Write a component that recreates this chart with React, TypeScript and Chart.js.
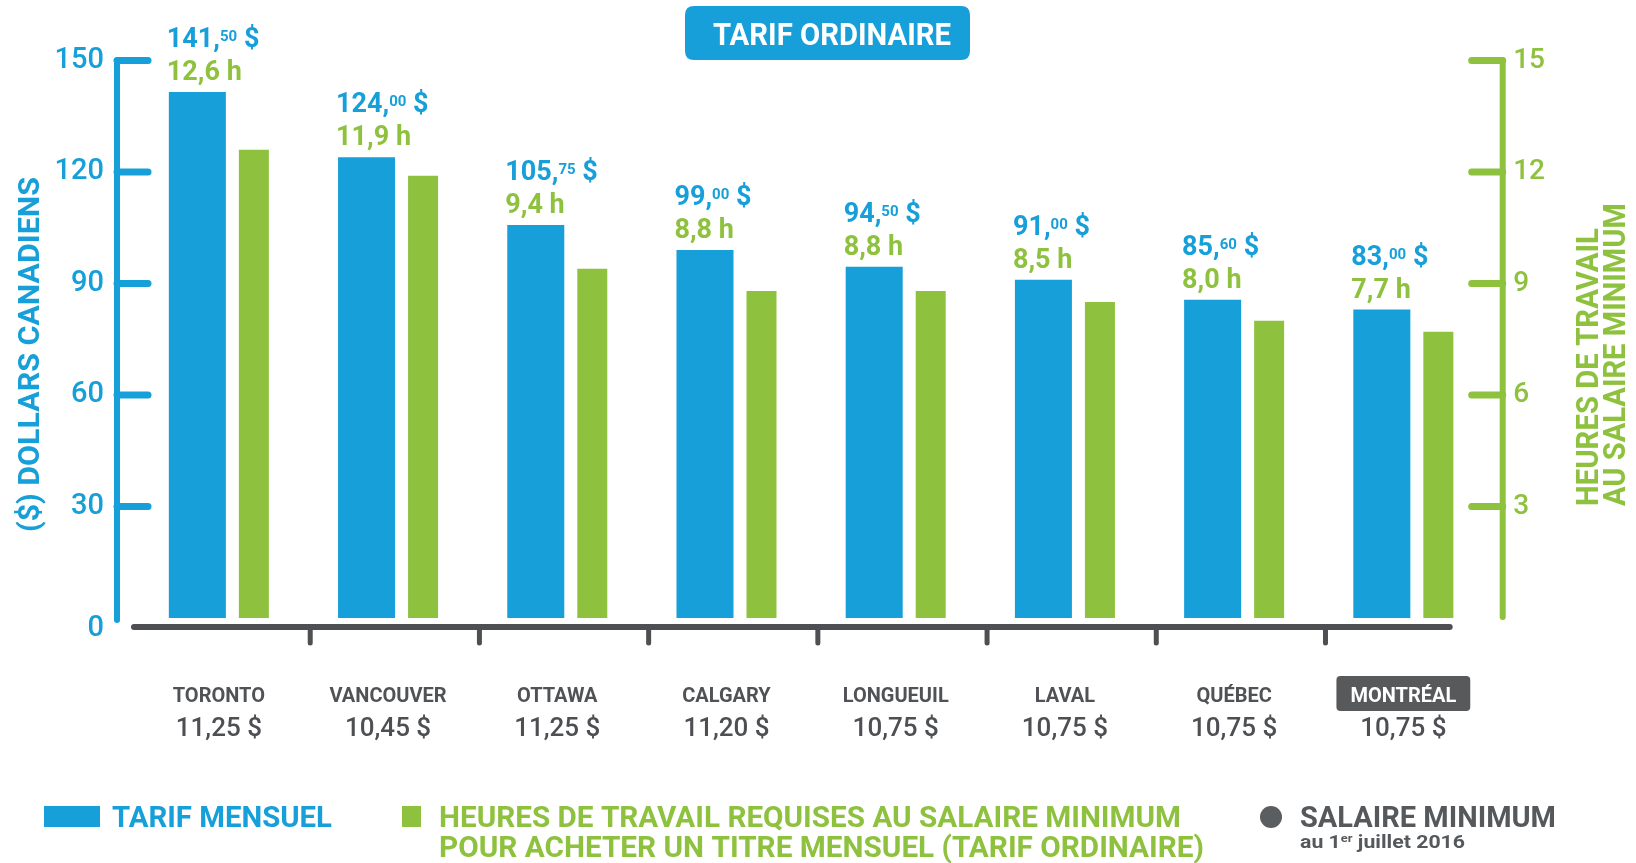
import React, { useEffect, useRef } from 'react';
import { Chart, registerables } from 'chart.js';

Chart.register(...registerables);

// ---------- data ----------
const cities = ['TORONTO', 'VANCOUVER', 'OTTAWA', 'CALGARY', 'LONGUEUIL', 'LAVAL', 'QUÉBEC', 'MONTRÉAL'];
const minimumWages = ['11,25 $', '10,45 $', '11,25 $', '11,20 $', '10,75 $', '10,75 $', '10,75 $', '10,75 $'];
const monthlyFares = [141.5, 124, 105.75, 99, 94.5, 91, 85.6, 83];
const workHours = [12.6, 11.9, 9.4, 8.8, 8.8, 8.5, 8.0, 7.7];
const fareTicks = [0, 30, 60, 90, 120, 150];
const hourTicks = [0, 3, 6, 9, 12, 15];
const highlightedCity = 'MONTRÉAL';

const chartTitle = 'TARIF ORDINAIRE';
const fareAxisTitle = '($) DOLLARS CANADIENS';
const hoursAxisTitle = ['HEURES DE TRAVAIL', 'AU SALAIRE MINIMUM'];
const legendFare = 'TARIF MENSUEL';
const legendHours = ['HEURES DE TRAVAIL REQUISES AU SALAIRE MINIMUM', 'POUR ACHETER UN TITRE MENSUEL (TARIF ORDINAIRE)'];
const legendWage = 'SALAIRE MINIMUM';
const legendWageNote = ['au 1', 'er', ' juillet 2016'];

// ---------- style ----------
const BLUE = '#169fd9';
const GREEN = '#8ec13e';
const GRAY = '#4d4f53';
const DARK = '#58595b';
const FAMILY = 'Roboto, "Noto Sans", "DejaVu Sans", sans-serif';
const f = (size: number, weight: string = 'bold') => `${weight} ${size}px ${FAMILY}`;

function drawText(
  ctx: CanvasRenderingContext2D,
  text: string,
  x: number,
  y: number,
  font: string,
  color: string,
  align: 'left' | 'center' | 'right' = 'left',
  targetWidth?: number,
  sx: number = 1
): number {
  ctx.save();
  ctx.font = font;
  const m = ctx.measureText(text).width;
  const scale = targetWidth ? targetWidth / m : sx;
  const w = m * scale;
  const left = align === 'center' ? x - w / 2 : align === 'right' ? x - w : x;
  ctx.translate(left, y);
  ctx.scale(scale, 1);
  ctx.fillStyle = color;
  ctx.textAlign = 'left';
  ctx.textBaseline = 'alphabetic';
  ctx.fillText(text, 0, 0);
  ctx.restore();
  return w;
}

function measure(ctx: CanvasRenderingContext2D, text: string, font: string): number {
  ctx.save();
  ctx.font = font;
  const w = ctx.measureText(text).width;
  ctx.restore();
  return w;
}

function drawRotated(
  ctx: CanvasRenderingContext2D,
  text: string,
  bx: number,
  by: number,
  font: string,
  color: string,
  targetLength?: number
) {
  ctx.save();
  ctx.translate(bx, by);
  ctx.rotate(-Math.PI / 2);
  drawText(ctx, text, 0, 0, font, color, 'left', targetLength);
  ctx.restore();
}

function seg(ctx: CanvasRenderingContext2D, x1: number, y1: number, x2: number, y2: number) {
  ctx.beginPath();
  ctx.moveTo(x1, y1);
  ctx.lineTo(x2, y2);
  ctx.stroke();
}

function roundRect(ctx: CanvasRenderingContext2D, x: number, y: number, w: number, h: number, r: number, color: string) {
  ctx.save();
  ctx.fillStyle = color;
  ctx.beginPath();
  ctx.moveTo(x + r, y);
  ctx.lineTo(x + w - r, y);
  ctx.quadraticCurveTo(x + w, y, x + w, y + r);
  ctx.lineTo(x + w, y + h - r);
  ctx.quadraticCurveTo(x + w, y + h, x + w - r, y + h);
  ctx.lineTo(x + r, y + h);
  ctx.quadraticCurveTo(x, y + h, x, y + h - r);
  ctx.lineTo(x, y + r);
  ctx.quadraticCurveTo(x, y, x + r, y);
  ctx.closePath();
  ctx.fill();
  ctx.restore();
}

// ---------- plugins ----------
const axesPlugin = {
  id: 'customAxes',
  afterDatasetsDraw(chart: any) {
    const { ctx, chartArea: a, scales } = chart;
    const xs = scales.x;
    const yF = scales.yFare;
    const yH = scales.yHours;
    ctx.save();
    ctx.lineCap = 'round';

    // left (fare) axis
    const lx = a.left - 24;
    ctx.strokeStyle = BLUE;
    ctx.lineWidth = 6;
    seg(ctx, lx, yF.getPixelForValue(fareTicks[fareTicks.length - 1]), lx, a.bottom + 2);
    ctx.lineWidth = 7;
    fareTicks.filter((v) => v > 0).forEach((v) => {
      const py = yF.getPixelForValue(v);
      seg(ctx, lx, py, lx + 31, py);
    });

    // right (hours) axis
    const rx = a.right + 8;
    ctx.strokeStyle = GREEN;
    ctx.lineWidth = 6;
    seg(ctx, rx, yH.getPixelForValue(hourTicks[hourTicks.length - 1]), rx, a.bottom - 1);
    ctx.lineWidth = 7;
    hourTicks.filter((v) => v > 0).forEach((v) => {
      const py = yH.getPixelForValue(v);
      seg(ctx, rx - 31, py, rx, py);
    });

    // x axis
    const by = a.bottom + 9;
    ctx.strokeStyle = GRAY;
    ctx.lineWidth = 6;
    seg(ctx, a.left - 7, by, a.right - 45, by);
    ctx.lineWidth = 5;
    for (let i = 0; i < cities.length - 1; i++) {
      const bx = (xs.getPixelForValue(i) + xs.getPixelForValue(i + 1)) / 2;
      seg(ctx, bx, by, bx, by + 16);
    }
    ctx.restore();
  },
};

const labelsPlugin = {
  id: 'valueLabels',
  afterDatasetsDraw(chart: any) {
    const { ctx, chartArea: a } = chart;
    const m0 = chart.getDatasetMeta(0);
    const m1 = chart.getDatasetMeta(1);
    m0.data.forEach((bar: any, i: number) => {
      const b = bar.getProps(['x', 'y', 'width'], true);
      const g = m1.data[i].getProps(['x', 'y', 'width'], true);
      const left = b.x - b.width / 2 - 2;

      // value labels
      const [ip, cp] = monthlyFares[i].toFixed(2).split('.');
      let cx = left;
      cx += drawText(ctx, ip + ',', cx, b.y - 45, f(27), BLUE);
      cx += drawText(ctx, cp, cx, b.y - 51, f(15), BLUE);
      drawText(ctx, ' $', cx, b.y - 45, f(27), BLUE);
      drawText(ctx, workHours[i].toFixed(1).replace('.', ',') + ' h', left, b.y - 12, f(27), GREEN);

      // category labels
      const center = (b.x - b.width / 2 + g.x + g.width / 2) / 2;
      const cityY = a.bottom + 84;
      if (cities[i] === highlightedCity) {
        const tw = measure(ctx, cities[i], f(20));
        roundRect(ctx, center - tw / 2 - 14, cityY - 26, tw + 28, 35, 4, DARK);
        drawText(ctx, cities[i], center, cityY, f(20), '#ffffff', 'center');
      } else {
        drawText(ctx, cities[i], center, cityY, f(20), '#505255', 'center');
      }
      drawText(ctx, minimumWages[i], center, a.bottom + 118, f(26, '500'), GRAY, 'center');
    });
  },
};

const decorPlugin = {
  id: 'decor',
  afterDraw(chart: any) {
    const { ctx } = chart;
    // title badge
    roundRect(ctx, 685, 6, 285, 54, 9, BLUE);
    drawText(ctx, chartTitle, 832, 45, f(31), '#ffffff', 'center', 238);

    // axis titles
    drawRotated(ctx, fareAxisTitle, 38.5, 532, f(29), BLUE, 355);
    drawRotated(ctx, hoursAxisTitle[0], 1598, 506, f(31), GREEN, 278);
    drawRotated(ctx, hoursAxisTitle[1], 1625, 506, f(31), GREEN, 303);

    // legend
    ctx.save();
    ctx.fillStyle = BLUE;
    ctx.fillRect(44, 806, 56, 21);
    ctx.fillStyle = GREEN;
    ctx.fillRect(402, 806, 19, 21);
    ctx.fillStyle = '#5b5e60';
    ctx.beginPath();
    ctx.arc(1271, 817, 11, 0, Math.PI * 2);
    ctx.fill();
    ctx.restore();

    drawText(ctx, legendFare, 112, 827, f(30), BLUE, 'left', 220);
    drawText(ctx, legendHours[0], 439, 827, f(30), GREEN, 'left', 742);
    drawText(ctx, legendHours[1], 439, 857, f(30), GREEN, 'left', 765);
    drawText(ctx, legendWage, 1300, 827, f(30), '#55595c', 'left', 256);

    // note with superscript, fitted to its width
    const nf = f(18);
    const sf = f(11);
    const natural =
      measure(ctx, legendWageNote[0], nf) + measure(ctx, legendWageNote[1], sf) + measure(ctx, legendWageNote[2], nf);
    const k = 165 / natural;
    let nx = 1300;
    nx += drawText(ctx, legendWageNote[0], nx, 848, nf, '#55595c', 'left', undefined, k);
    nx += drawText(ctx, legendWageNote[1], nx, 842, sf, '#55595c', 'left', undefined, k);
    drawText(ctx, legendWageNote[2], nx, 848, nf, '#55595c', 'left', undefined, k);
  },
};

// ---------- component ----------
export default function App() {
  const ref = useRef<HTMLCanvasElement | null>(null);

  useEffect(() => {
    if (!ref.current) return;
    const chart = new Chart(ref.current, {
      type: 'bar',
      data: {
        labels: cities,
        datasets: [
          {
            label: legendFare,
            data: monthlyFares,
            backgroundColor: BLUE,
            yAxisID: 'yFare',
            categoryPercentage: 0.668,
            barPercentage: 57 / 56.5,
          },
          {
            label: legendHours.join(' '),
            data: workHours,
            backgroundColor: GREEN,
            yAxisID: 'yHours',
            categoryPercentage: 0.668,
            barPercentage: 30 / 56.5,
          },
        ],
      },
      options: {
        responsive: false,
        animation: false,
        devicePixelRatio: 1,
        events: [],
        layout: { padding: { top: 60.5, bottom: 245, left: 0, right: 0 } },
        plugins: {
          legend: { display: false },
          tooltip: { enabled: false },
          title: { display: false },
        },
        scales: {
          x: { type: 'category', display: false, offset: true },
          yFare: {
            type: 'linear',
            position: 'left',
            min: fareTicks[0],
            max: fareTicks[fareTicks.length - 1],
            grid: { display: false, drawTicks: false },
            border: { display: false },
            afterBuildTicks: (s: any) => {
              s.ticks = fareTicks.map((v) => ({ value: v }));
            },
            afterFit: (s: any) => {
              s.width = 141;
            },
            ticks: {
              color: BLUE,
              padding: 37,
              font: { family: FAMILY, size: 29, weight: '500', lineHeight: 0.75 },
              callback: (v: any) => (Number(v) === 0 ? ['', '0'] : String(v)),
            },
          },
          yHours: {
            type: 'linear',
            position: 'right',
            min: hourTicks[0],
            max: hourTicks[hourTicks.length - 1],
            grid: { display: false, drawTicks: false },
            border: { display: false },
            afterBuildTicks: (s: any) => {
              s.ticks = hourTicks.map((v) => ({ value: v }));
            },
            afterFit: (s: any) => {
              s.width = 141.3;
            },
            ticks: {
              color: GREEN,
              padding: 18.5,
              font: { family: FAMILY, size: 28, weight: '500' },
              callback: (v: any) => (Number(v) === 0 ? '' : String(v)),
            },
          },
        },
      },
      plugins: [axesPlugin, labelsPlugin, decorPlugin],
    } as any);
    return () => chart.destroy();
  }, []);

  return (
    <div style={{ position: 'absolute', left: 0, top: 0, width: 1636, height: 863, background: '#ffffff' }}>
      <canvas ref={ref} width={1636} height={863} style={{ display: 'block', width: 1636, height: 863 }} />
    </div>
  );
}
